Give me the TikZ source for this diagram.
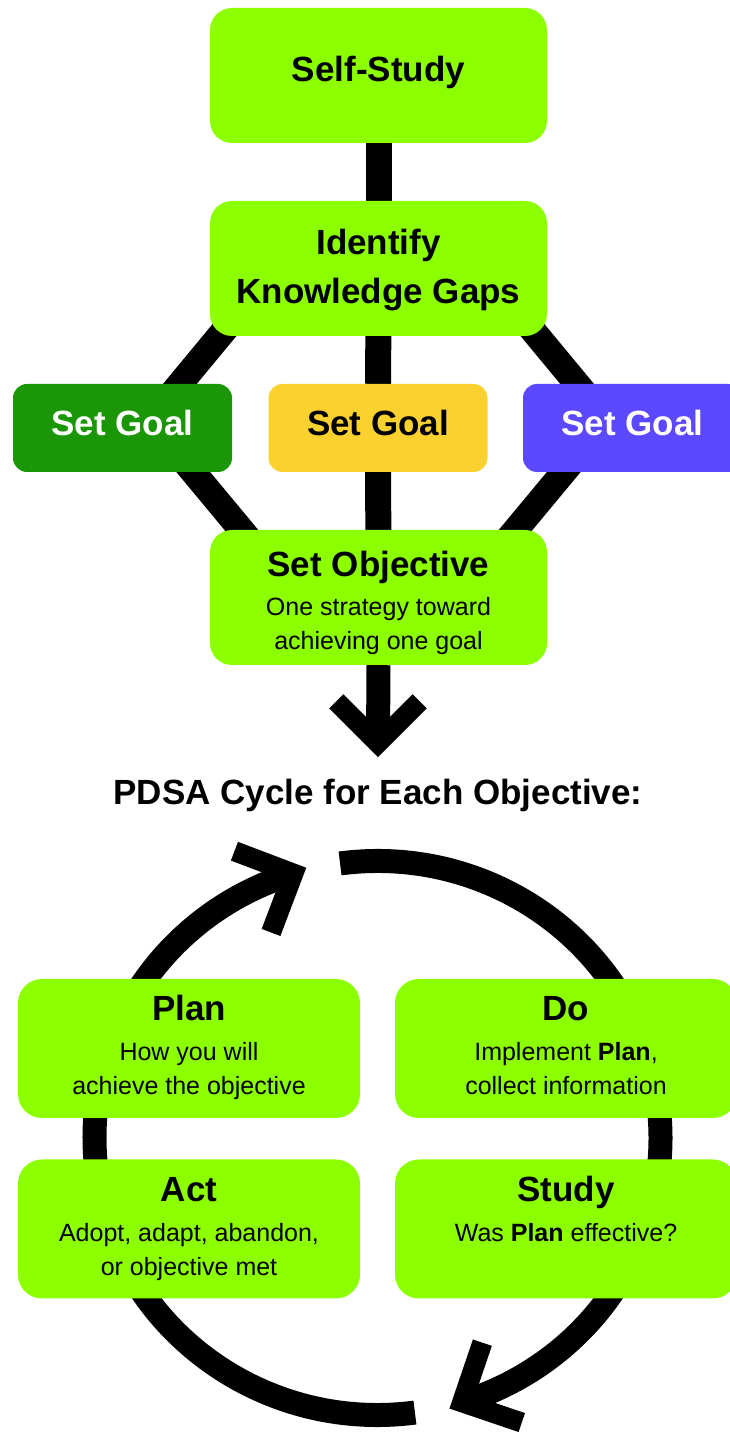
\documentclass[tikz,border=0pt]{standalone}
\usepackage{fontspec}
\setmainfont{Liberation Sans}
\usetikzlibrary{calc,backgrounds}

\definecolor{boxlime}{RGB}{140,255,0}
\definecolor{goalgreen}{RGB}{26,150,6}
\definecolor{goalyellow}{RGB}{251,209,47}
\definecolor{goalblue}{RGB}{91,72,255}

\newcommand\vfit[2]{\rule[-#2]{0pt}{\dimexpr#1+#2\relax}}
\newcommand\boxtitle[1]{{\fontsize{35}{40}\selectfont\bfseries #1}}

\begin{document}
\begin{tikzpicture}[x=1pt, y=1pt, line join=round,
  box/.style={fill=boxlime, rounded corners=22pt, inner sep=0pt, align=center,
    minimum width=337pt, minimum height=135pt, font=\fontsize{25}{34}\selectfont},
  goal/.style={rounded corners=14pt, inner sep=0pt, minimum width=219pt,
    minimum height=88pt, font=\fontsize{35}{40}\selectfont\bfseries},
  pdsa/.style={box, rounded corners=24pt, minimum width=342pt, minimum height=139pt},
  link/.style={line width=26pt},
  ring/.style={line width=24pt},
  head/.style={line width=20pt, line join=miter, line cap=butt}]
\useasboundingbox (0,0) rectangle (730,1435);

\coordinate (hub) at (377.5,297);
\draw[ring] ($(hub)+(97.6:283 and 277)$) arc[start angle=97.6, end angle=-72.6, x radius=283, y radius=277] coordinate (tipB);
\draw[head] ($(tipB)+(341.25:63)$) -- (tipB) -- ++(71.25:63);
\draw[ring] ($(hub)+(277.6:283 and 277)$) arc[start angle=277.6, end angle=107.3, x radius=283, y radius=277] coordinate (tipA);
\draw[head] ($(tipA)+(159.25:63)$) -- (tipA) -- ++(-110.75:63);

\node[box, font=\fontsize{35}{40}\selectfont\bfseries] (self) at (378.5,1359.5) {\vfit{27pt}{14pt}Self-Study};
\node[box, font=\fontsize{35}{49}\selectfont\bfseries] (ident) at (378.5,1166.5) {\vfit{30pt}{0pt}Identify\\Knowledge Gaps\vfit{0pt}{8pt}};
\node[goal, fill=goalgreen, text=white] (goalA) at (122.5,1007) {\vfit{27pt}{11pt}Set Goal};
\node[goal, fill=goalyellow] (goalB) at (378,1007) {\vfit{27pt}{11pt}Set Goal};
\node[goal, fill=goalblue, text=white] (goalC) at (632.5,1007) {\vfit{27pt}{11pt}Set Goal};
\node[box] (obj) at (378.5,837.5) {\boxtitle{\vfit{38pt}{0pt}Set Objective}\\[5pt]One strategy toward\\achieving one goal\vfit{0pt}{6pt}};
\node[font=\fontsize{35}{40}\selectfont\bfseries, anchor=base] (pdsatitle) at (378,630) {PDSA Cycle for Each Objective:};

\coordinate (bendL) at (150,1015);
\coordinate (bendR) at (607,1015);
\coordinate (downtip) at (378,692);
\begin{scope}[on background layer]
  \draw[link] (self) -- (ident);
  \draw[link] (ident) -- (goalB) -- (obj);
  \draw[link] ([xshift=-103pt]ident.center) -- (bendL) -- ([xshift=-81pt]obj.center);
  \draw[link] ([xshift=103pt]ident.center) -- (bendR) -- ([xshift=81pt]obj.center);
\end{scope}
\draw[line width=24pt] (obj.south) -- (downtip);
\draw[head] ($(downtip)+(135:59)$) -- (downtip) -- ++(45:59);

\node[pdsa] (plan) at (189,386.5) {\boxtitle{\vfit{27pt}{0pt}Plan}\\[6pt]How you will\\achieve the objective\vfit{0pt}{8pt}};
\node[pdsa] (do) at (566,386.5) {\boxtitle{\vfit{27pt}{0pt}Do}\\[6pt]Implement \textbf{Plan},\\collect information\vfit{0pt}{8pt}};
\node[pdsa] (act) at (189,206) {\boxtitle{\vfit{27pt}{0pt}Act}\\[6pt]Adopt, adapt, abandon,\\or objective met\vfit{0pt}{8pt}};
\node[pdsa] (study) at (566,206) {\boxtitle{\vfit{27pt}{0pt}Study}\\[6pt]Was \textbf{Plan} effective?\\\vfit{0pt}{8pt}};
\end{tikzpicture}
\end{document}
